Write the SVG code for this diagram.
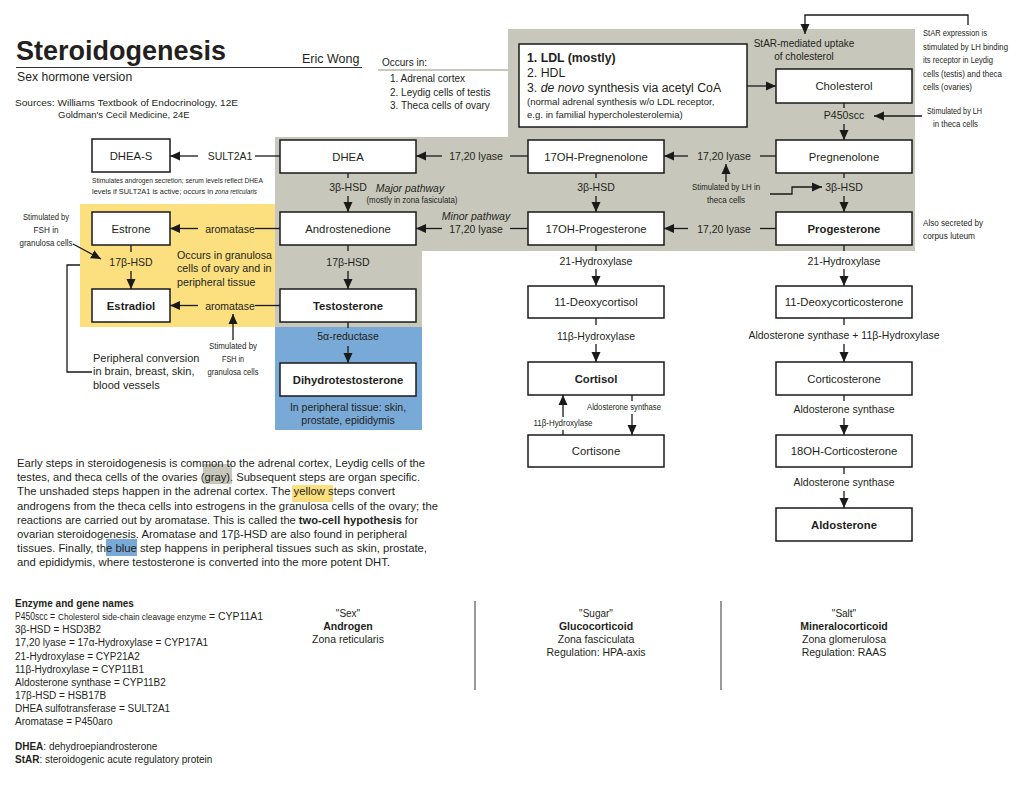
<svg xmlns="http://www.w3.org/2000/svg" width="1024" height="788" viewBox="0 0 1024 788">
<defs>
<style>
text{font-family:"Liberation Sans",Arial,sans-serif;fill:#231f20}
.n{fill:#fff;stroke:#1a1a1a;stroke-width:1.5}
.nl{font-size:11.3px;text-anchor:middle}
.b{font-weight:bold}
.el{font-size:10.5px;text-anchor:middle}
.sm{font-size:9px}
.c{stroke:#1a1a1a;stroke-width:1.3;fill:none}
.a{marker-end:url(#ah)}
.p{font-size:11px}
.l{font-size:10px}
.mid{text-anchor:middle}
</style>
<marker id="ah" viewBox="0 0 10 10" refX="10" refY="5" markerWidth="10" markerHeight="10" markerUnits="userSpaceOnUse" orient="auto">
<path d="M0,0.5 L10,5 L0,9.5 z" fill="#1a1a1a"/>
</marker>
</defs>
<rect width="1024" height="788" fill="#fff"/>

<g id="regions">
<polygon points="275,137 508,137 508,29 915,29 915,251 422,251 422,327 275,327" fill="#c7c8bb"/>
<line x1="378" y1="70" x2="508" y2="70" stroke="#c7c8bb" stroke-width="2"/>
<rect x="80" y="204" width="195" height="123" fill="#fcdf7e"/>
<rect x="275" y="327" width="147" height="103" fill="#79a9d6"/>
</g>

<g id="header">
<text x="16" y="60" font-size="27" font-weight="bold">Steroidogenesis</text>
<line x1="16" y1="67.5" x2="362" y2="67.5" stroke="#333" stroke-width="1.2"/>
<text x="302" y="63" font-size="12.5">Eric Wong</text>
<text x="17" y="81" font-size="12.2">Sex hormone version</text>
<text x="15" y="106" font-size="9.5" textLength="223" lengthAdjust="spacingAndGlyphs">Sources: Williams Textbook of Endocrinology, 12E</text>
<text x="58" y="118" font-size="9.5">Goldman's Cecil Medicine, 24E</text>
<text x="382" y="66" font-size="10">Occurs in:</text>
<text x="390" y="82" font-size="10">1. Adrenal cortex</text>
<text x="390" y="95.5" font-size="10">2. Leydig cells of testis</text>
<text x="390" y="109" font-size="10">3. Theca cells of ovary</text>
</g>

<g id="ldl">
<rect class="n" x="519" y="44" width="228" height="83"/>
<text x="527" y="62" font-size="12.3" font-weight="bold">1. LDL (mostly)</text>
<text x="527" y="77" font-size="12.3">2. HDL</text>
<text x="527" y="92" font-size="12.3">3. <tspan font-style="italic">de novo</tspan> synthesis via acetyl CoA</text>
<text x="527" y="105" font-size="9.6">(normal adrenal synthesis w/o LDL receptor,</text>
<text x="527" y="118" font-size="9.6">e.g. in familial hypercholesterolemia)</text>
</g>

<g id="notes">
<text x="804" y="47" font-size="10" class="mid">StAR-mediated uptake</text>
<text x="804" y="60" font-size="10" class="mid">of cholesterol</text>
<g class="sm">
<text x="923" y="36" textLength="64" lengthAdjust="spacingAndGlyphs">StAR expression is</text>
<text x="923" y="49.5" textLength="85" lengthAdjust="spacingAndGlyphs">stimulated by LH binding</text>
<text x="923" y="63" textLength="70" lengthAdjust="spacingAndGlyphs">its receptor in Leydig</text>
<text x="923" y="76.5" textLength="79" lengthAdjust="spacingAndGlyphs">cells (testis) and theca</text>
<text x="923" y="90" textLength="49" lengthAdjust="spacingAndGlyphs">cells (ovaries)</text>
<text x="927" y="114" textLength="55" lengthAdjust="spacingAndGlyphs">Stimulated by LH</text>
<text x="933" y="127" textLength="45" lengthAdjust="spacingAndGlyphs">in theca cells</text>
<text x="923" y="226" textLength="60" lengthAdjust="spacingAndGlyphs">Also secreted by</text>
<text x="923" y="239" textLength="52" lengthAdjust="spacingAndGlyphs">corpus luteum</text>
<text x="92" y="182.5" font-size="7.5" textLength="171" lengthAdjust="spacingAndGlyphs">Stimulates androgen secretion; serum levels reflect DHEA</text>
<text x="92" y="194" font-size="7.5" textLength="121" lengthAdjust="spacingAndGlyphs">levels if SULT2A1 is active; occurs in</text>
<text x="215" y="194" font-size="7.5" font-style="italic" textLength="42" lengthAdjust="spacingAndGlyphs">zona reticularis</text>
<text x="412" y="203" font-size="8.5" class="mid" textLength="91" lengthAdjust="spacingAndGlyphs">(mostly in zona fasiculata)</text>
<text x="726" y="190" class="mid" textLength="68" lengthAdjust="spacingAndGlyphs">Stimulated by LH in</text>
<text x="726" y="203" class="mid" textLength="38" lengthAdjust="spacingAndGlyphs">theca cells</text>
<text x="46" y="220" class="mid" textLength="46" lengthAdjust="spacingAndGlyphs">Stimulated by</text>
<text x="46" y="233" class="mid" textLength="25" lengthAdjust="spacingAndGlyphs">FSH in</text>
<text x="46" y="246" class="mid" textLength="53" lengthAdjust="spacingAndGlyphs">granulosa cells</text>
<text x="233" y="349" class="mid" textLength="48" lengthAdjust="spacingAndGlyphs">Stimulated by</text>
<text x="233" y="362" class="mid" textLength="22" lengthAdjust="spacingAndGlyphs">FSH in</text>
<text x="233" y="375" class="mid" textLength="51" lengthAdjust="spacingAndGlyphs">granulosa cells</text>
<text x="563" y="426" class="mid" font-size="8.5" textLength="59" lengthAdjust="spacingAndGlyphs">11β-Hydroxylase</text>
<text x="624" y="410" class="mid" font-size="8.5" textLength="74" lengthAdjust="spacingAndGlyphs">Aldosterone synthase</text>
</g>
<text x="410" y="192" font-size="10.5" font-style="italic" class="mid">Major pathway</text>
<text x="476" y="220" font-size="10.5" font-style="italic" class="mid">Minor pathway</text>
<text x="177" y="259" font-size="10.7">Occurs in granulosa</text>
<text x="177" y="272" font-size="10.7">cells of ovary and in</text>
<text x="177" y="285.5" font-size="10.7">peripheral tissue</text>
<text x="93" y="362" font-size="11">Peripheral conversion</text>
<text x="93" y="375" font-size="11">in brain, breast, skin,</text>
<text x="93" y="388.5" font-size="11">blood vessels</text>
<text x="348" y="411" font-size="10.5" class="mid">In peripheral tissue: skin,</text>
<text x="348" y="424" font-size="10.5" class="mid">prostate, epididymis</text>
</g>

<g id="node-cholesterol"><rect class="n" x="776" y="69" width="136" height="34"/><text class="nl" x="844" y="90">Cholesterol</text></g>
<g id="node-dheas"><rect class="n" x="92" y="139" width="78" height="33"/><text class="nl" x="131" y="159.5">DHEA-S</text></g>
<g id="node-dhea"><rect class="n" x="280" y="140" width="136" height="33"/><text class="nl" x="348" y="160.5">DHEA</text></g>
<g id="node-17ohpreg"><rect class="n" x="528" y="140" width="136" height="33"/><text class="nl" x="596" y="160.5">17OH-Pregnenolone</text></g>
<g id="node-preg"><rect class="n" x="776" y="140" width="136" height="33"/><text class="nl" x="844" y="160.5">Pregnenolone</text></g>
<g id="node-estrone"><rect class="n" x="92" y="212" width="78" height="33"/><text class="nl" x="131" y="233" font-size="12">Estrone</text></g>
<g id="node-andro"><rect class="n" x="280" y="212" width="136" height="33"/><text class="nl" x="348" y="232.5">Androstenedione</text></g>
<g id="node-17ohprog"><rect class="n" x="528" y="212" width="136" height="33"/><text class="nl" x="596" y="232.5">17OH-Progesterone</text></g>
<g id="node-prog"><rect class="n" x="776" y="212" width="136" height="33"/><text class="nl b" x="844" y="232.5">Progesterone</text></g>
<g id="node-estradiol"><rect class="n" x="92" y="289" width="78" height="33"/><text class="nl b" x="131" y="310" font-size="12">Estradiol</text></g>
<g id="node-testo"><rect class="n" x="280" y="289" width="136" height="33"/><text class="nl b" x="348" y="309.5">Testosterone</text></g>
<g id="node-deoxycortisol"><rect class="n" x="528" y="286" width="136" height="32"/><text class="nl" x="596" y="306">11-Deoxycortisol</text></g>
<g id="node-doc"><rect class="n" x="776" y="286" width="136" height="32"/><text class="nl" x="844" y="306">11-Deoxycorticosterone</text></g>
<g id="node-dht"><rect class="n" x="280" y="363" width="136" height="33"/><text class="nl b" x="348" y="383.5">Dihydrotestosterone</text></g>
<g id="node-cortisol"><rect class="n" x="528" y="362" width="136" height="33"/><text class="nl b" x="596" y="382.5">Cortisol</text></g>
<g id="node-corticosterone"><rect class="n" x="776" y="362" width="136" height="33"/><text class="nl" x="844" y="382.5">Corticosterone</text></g>
<g id="node-cortisone"><rect class="n" x="528" y="435" width="136" height="32"/><text class="nl" x="596" y="455">Cortisone</text></g>
<g id="node-18oh"><rect class="n" x="776" y="435" width="136" height="32"/><text class="nl" x="844" y="455">18OH-Corticosterone</text></g>
<g id="node-aldo"><rect class="n" x="776" y="508" width="136" height="33"/><text class="nl b" x="844" y="528.5">Aldosterone</text></g>

<g id="connectors">
<path class="c a" d="M747,86 H776"/>
<path class="c a" d="M968,25 V15 H805 V34"/>
<path class="c" d="M844,103 V108"/><path class="c a" d="M844,124 V140"/>
<path class="c a" d="M922,116 H874"/>
<path class="c" d="M255,156 H280"/><path class="c a" d="M198,156 H170"/>
<path class="c" d="M510,156 H528"/><path class="c a" d="M442,156 H416"/>
<path class="c" d="M760,156 H776"/><path class="c a" d="M688,156 H664"/>
<path class="c" d="M255,228.5 H280"/><path class="c a" d="M198,228.5 H170"/>
<path class="c" d="M510,228.5 H528"/><path class="c a" d="M442,228.5 H416"/>
<path class="c" d="M760,228.5 H776"/><path class="c a" d="M688,228.5 H664"/>
<path class="c" d="M255,305.5 H280"/><path class="c a" d="M198,305.5 H170"/>
<path class="c" d="M348,173 V178"/><path class="c a" d="M348,196 V212"/>
<path class="c" d="M596,173 V178"/><path class="c a" d="M596,196 V212"/>
<path class="c" d="M844,173 V178"/><path class="c a" d="M844,196 V212"/>
<path class="c a" d="M726,182 V164"/>
<path class="c a" d="M770,194 H792 V187 H822"/>
<path class="c" d="M131,245 V252"/><path class="c a" d="M131,271 V289"/>
<path class="c a" d="M73,244 L101,259"/>
<path class="c a" d="M233,340 V314"/>
<path class="c" d="M80,265 H67 V372 H92"/>
<path class="c" d="M348,245 V251"/><path class="c a" d="M348,271 V289"/>
<path class="c" d="M348,322 V328"/><path class="c a" d="M348,346 V363"/>
<path class="c" d="M596,245 V251"/><path class="c a" d="M596,269 V286"/>
<path class="c" d="M596,318 V325"/><path class="c a" d="M596,344 V362"/>
<path class="c" d="M563,435 V430"/><path class="c a" d="M563,417 V395"/>
<path class="c" d="M632,395 V401"/><path class="c a" d="M632,414 V435"/>
<path class="c" d="M844,245 V251"/><path class="c a" d="M844,269 V286"/>
<path class="c" d="M844,318 V325"/><path class="c a" d="M844,344 V362"/>
<path class="c" d="M844,395 V401"/><path class="c a" d="M844,418 V435"/>
<path class="c" d="M844,467 V474"/><path class="c a" d="M844,491 V508"/>
</g>

<g id="edge-labels">
<text class="el" x="844" y="119">P450scc</text>
<text class="el" x="230" y="160">SULT2A1</text>
<text class="el" x="476" y="160">17,20 lyase</text>
<text class="el" x="724" y="160">17,20 lyase</text>
<text class="el" x="348" y="191">3β-HSD</text>
<text class="el" x="596" y="191">3β-HSD</text>
<text class="el" x="844" y="191">3β-HSD</text>
<text class="el" x="230" y="232.5">aromatase</text>
<text class="el" x="476" y="233">17,20 lyase</text>
<text class="el" x="724" y="233">17,20 lyase</text>
<text class="el" x="131" y="266" font-size="11.5">17β-HSD</text>
<text class="el" x="348" y="266">17β-HSD</text>
<text class="el" x="230" y="309.5">aromatase</text>
<text class="el" x="348" y="340">5α-reductase</text>
<text class="el" x="596" y="265">21-Hydroxylase</text>
<text class="el" x="844" y="265">21-Hydroxylase</text>
<text class="el" x="596" y="340">11β-Hydroxylase</text>
<text class="el" x="844" y="339">Aldosterone synthase + 11β-Hydroxylase</text>
<text class="el" x="844" y="413">Aldosterone synthase</text>
<text class="el" x="844" y="486">Aldosterone synthase</text>
</g>

<g id="paragraph">
<rect x="203" y="464" width="29" height="20" fill="#c7c8bb"/>
<rect x="292" y="485" width="41" height="17" fill="#fcdf7e"/>
<rect x="106" y="539" width="31" height="17" fill="#79a9d6"/>
<text class="p" x="17" y="467" textLength="408" lengthAdjust="spacingAndGlyphs">Early steps in steroidogenesis is common to the adrenal cortex, Leydig cells of the</text>
<text class="p" x="17" y="481" textLength="403" lengthAdjust="spacingAndGlyphs">testes, and theca cells of the ovaries (gray). Subsequent steps are organ specific.</text>
<text class="p" x="17" y="495" textLength="378" lengthAdjust="spacingAndGlyphs">The unshaded steps happen in the adrenal cortex. The yellow steps convert</text>
<text class="p" x="17" y="509.5" textLength="421" lengthAdjust="spacingAndGlyphs">androgens from the theca cells into estrogens in the granulosa cells of the ovary; the</text>
<text class="p" x="17" y="523.5" textLength="401" lengthAdjust="spacingAndGlyphs">reactions are carried out by aromatase. This is called the <tspan font-weight="bold">two-cell hypothesis</tspan> for</text>
<text class="p" x="17" y="538" textLength="390" lengthAdjust="spacingAndGlyphs">ovarian steroidogenesis. Aromatase and 17β-HSD are also found in peripheral</text>
<text class="p" x="17" y="552" textLength="410" lengthAdjust="spacingAndGlyphs">tissues. Finally, the blue step happens in peripheral tissues such as skin, prostate,</text>
<text class="p" x="17" y="566" textLength="373" lengthAdjust="spacingAndGlyphs">and epididymis, where testosterone is converted into the more potent DHT.</text>
</g>

<g id="legend">
<text class="l b" x="15" y="607">Enzyme and gene names</text>
<text class="l" x="15" y="620" textLength="40" lengthAdjust="spacingAndGlyphs">P450scc =</text>
<text x="58" y="620" font-size="8.5" textLength="148" lengthAdjust="spacingAndGlyphs">Cholesterol side-chain cleavage enzyme</text>
<text class="l" x="209" y="620" textLength="54" lengthAdjust="spacingAndGlyphs">= CYP11A1</text>
<text class="l" x="15" y="633">3β-HSD = HSD3B2</text>
<text class="l" x="15" y="646">17,20 lyase = 17α-Hydroxylase = CYP17A1</text>
<text class="l" x="15" y="659.5">21-Hydroxylase = CYP21A2</text>
<text class="l" x="15" y="673">11β-Hydroxylase = CYP11B1</text>
<text class="l" x="15" y="686">Aldosterone synthase = CYP11B2</text>
<text class="l" x="15" y="699">17β-HSD = HSB17B</text>
<text class="l" x="15" y="712">DHEA sulfotransferase = SULT2A1</text>
<text class="l" x="15" y="725">Aromatase = P450aro</text>
<text class="l" x="15" y="750"><tspan font-weight="bold">DHEA</tspan>: dehydroepiandrosterone</text>
<text class="l" x="15" y="763"><tspan font-weight="bold">StAR</tspan>: steroidogenic acute regulatory protein</text>
</g>

<g id="columns">
<line x1="475" y1="601" x2="475" y2="690" stroke="#777" stroke-width="1.5"/>
<line x1="721" y1="601" x2="721" y2="690" stroke="#777" stroke-width="1.5"/>
<text class="mid" x="348" y="617" font-size="10">"Sex"</text>
<text class="mid b" x="348" y="630" font-size="10.5">Androgen</text>
<text class="mid" x="348" y="643" font-size="10.5">Zona reticularis</text>
<text class="mid" x="596" y="617" font-size="10">"Sugar"</text>
<text class="mid b" x="596" y="630" font-size="10.5">Glucocorticoid</text>
<text class="mid" x="596" y="643" font-size="10.5">Zona fasciculata</text>
<text class="mid" x="596" y="656" font-size="10.5">Regulation: HPA-axis</text>
<text class="mid" x="844" y="617" font-size="10">"Salt"</text>
<text class="mid b" x="844" y="630" font-size="10.5">Mineralocorticoid</text>
<text class="mid" x="844" y="643" font-size="10.5">Zona glomerulosa</text>
<text class="mid" x="844" y="656" font-size="10.5">Regulation: RAAS</text>
</g>
</svg>
